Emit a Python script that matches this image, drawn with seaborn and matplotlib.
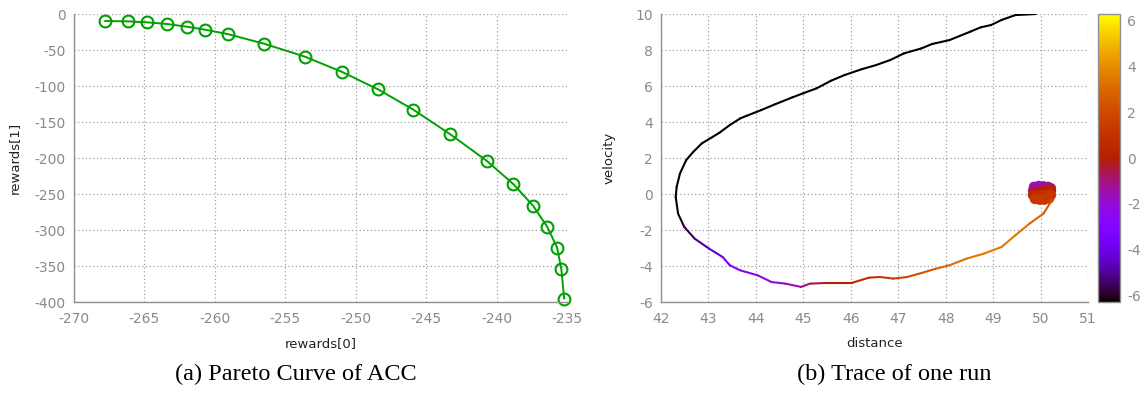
import numpy as np
import pandas as pd
import matplotlib
matplotlib.use("Agg")
import matplotlib.pyplot as plt
import seaborn as sns
from matplotlib.collections import LineCollection
from matplotlib.colors import Normalize
from matplotlib.cm import ScalarMappable

# (a) Pareto curve of ACC
rewards0 = [-267.8, -266.2, -264.8, -263.4, -262.0, -260.7, -259.1, -256.5, -253.6,
            -251.0, -248.4, -245.9, -243.3, -240.7, -238.8, -237.4, -236.4, -235.7,
            -235.4, -235.2]
rewards1 = [-9.7, -10.2, -11.6, -13.9, -17.6, -21.8, -27.8, -41.3, -59.3,
            -80.2, -104.8, -133.0, -166.9, -203.9, -236.4, -266.5, -295.7, -324.5,
            -354.6, -395.4]

# (b) trace of one run
distance = [49.90, 49.47, 49.18, 48.96, 48.74, 48.52, 48.08, 47.71, 47.49, 47.12,
            46.83, 46.53, 46.24, 45.87, 45.58, 45.28, 44.99, 44.77, 44.40, 44.11,
            43.81, 43.67, 43.45, 43.23, 42.86, 42.68, 42.53, 42.40, 42.33, 42.31,
            42.36, 42.49, 42.71, 43.01, 43.30, 43.45, 43.67, 44.04, 44.33, 44.62,
            44.95, 45.14, 45.50, 46.02, 46.38, 46.61, 46.90, 47.19, 47.49, 47.78,
            48.08, 48.44, 48.81, 49.18, 49.47, 49.77, 50.06, 50.24]
velocity = [10.00, 9.94, 9.67, 9.39, 9.26, 9.02, 8.55, 8.33, 8.09, 7.81,
            7.44, 7.16, 6.94, 6.61, 6.29, 5.87, 5.59, 5.37, 4.98, 4.66,
            4.35, 4.20, 3.83, 3.40, 2.81, 2.34, 1.88, 1.14, 0.40, -0.16,
            -1.09, -1.83, -2.48, -3.03, -3.50, -3.96, -4.24, -4.52, -4.89, -4.98,
            -5.16, -4.98, -4.94, -4.94, -4.65, -4.61, -4.70, -4.61, -4.39, -4.16,
            -3.96, -3.59, -3.31, -2.94, -2.29, -1.64, -1.09, -0.35]
colour_value = [-6.3, -6.3, -6.3, -6.3, -6.3, -6.3, -6.3, -6.3, -6.3, -6.3,
                -6.3, -6.3, -6.3, -6.3, -6.3, -6.3, -6.3, -6.3, -6.3, -6.3,
                -6.3, -6.3, -6.3, -6.3, -6.3, -6.3, -6.3, -6.3, -6.3, -6.3,
                -6.3, -6.0, -5.4, -4.7, -3.9, -3.2, -2.9, -2.5, -2.1, -1.7,
                -1.3, -0.8, -0.3, 0.3, 0.8, 1.1, 1.5, 1.9, 2.3, 2.7,
                3.0, 3.3, 3.5, 3.6, 3.5, 3.2, 2.8, 2.3]

# settling blob around distance 50, velocity 0
blob_distance = [49.86, 49.96, 50.06, 50.16, 50.22,
                 49.84, 49.94, 50.04, 50.14, 50.22,
                 49.84, 49.94, 50.04, 50.14, 50.22,
                 49.88, 49.98, 50.08, 50.18]
blob_velocity = [0.40, 0.45, 0.43, 0.40, 0.32,
                 0.18, 0.18, 0.18, 0.18, 0.18,
                 -0.06, -0.06, -0.06, -0.06, -0.06,
                 -0.28, -0.32, -0.32, -0.26]
blob_value = [-1.9, -1.7, -1.5, -1.2, -0.9,
              -0.8, -0.5, -0.2, 0.1, 0.3,
              0.5, 0.7, 0.9, 1.0, 1.1,
              1.2, 1.3, 1.4, 1.3]

cbar_ticks = [-6, -4, -2, 0, 2, 4, 6]

sns.set_style("white")
plt.rcParams['font.family'] = ['DejaVu Sans']
plt.rcParams['axes.unicode_minus'] = False

tick_grey = '#8a8a8a'
grid_kw = dict(color='#a0a0a0', linestyle=(0, (1, 2)), linewidth=0.9)

fig = plt.figure(figsize=(11.47, 3.96), dpi=100)
W, H = 1147, 396
ax1 = fig.add_axes([74 / W, 94 / H, (567 - 74) / W, 288 / H])
ax2 = fig.add_axes([661 / W, 94 / H, (1088 - 661) / W, 288 / H])
cax = fig.add_axes([1098 / W, 94 / H, 22 / W, 288 / H])


def style_axes(ax):
    for side in ['top', 'right']:
        ax.spines[side].set_visible(False)
    for side in ['left', 'bottom']:
        ax.spines[side].set_color('#909090')
        ax.spines[side].set_linewidth(1.0)
    ax.grid(True, **grid_kw)
    ax.set_axisbelow(True)
    ax.tick_params(axis='both', colors=tick_grey, labelsize=10, length=0, pad=7)
    ax.tick_params(axis='y', pad=6)


# left panel
pareto = pd.DataFrame({'rewards[0]': rewards0, 'rewards[1]': rewards1})
sns.lineplot(data=pareto, x='rewards[0]', y='rewards[1]', sort=False, ax=ax1,
             color='#00a000', linewidth=1.4, marker='o', markersize=8.5,
             markerfacecolor='none', markeredgecolor='#00a000', markeredgewidth=1.5,
             clip_on=False)
ax1.set_xlim(-270, -235)
ax1.set_ylim(-400, 0)
ax1.set_xticks(range(-270, -234, 5))
ax1.set_yticks(range(-400, 1, 50))
style_axes(ax1)
ax1.set_xlabel('rewards[0]', fontsize=9.5, color='#222222', labelpad=8)
ax1.set_ylabel('rewards[1]', fontsize=9.5, color='#222222', labelpad=10)

# right panel
cmap = plt.get_cmap('gnuplot')
norm = Normalize(vmin=-6.3, vmax=6.3)
pts = np.column_stack([distance, velocity])
segs = np.stack([pts[:-1], pts[1:]], axis=1)
seg_vals = (np.array(colour_value[:-1]) + np.array(colour_value[1:])) / 2
lc = LineCollection(segs, cmap=cmap, norm=norm, linewidth=1.5, capstyle='round',
                    joinstyle='round')
lc.set_array(seg_vals)
ax2.add_collection(lc)
sns.scatterplot(x=blob_distance, y=blob_velocity, hue=blob_value, palette=cmap,
                hue_norm=norm, s=55, linewidth=0, marker='o', legend=False, ax=ax2)
ax2.set_xlim(42, 51)
ax2.set_ylim(-6, 10)
ax2.set_xticks(range(42, 52))
ax2.set_yticks(range(-6, 11, 2))
style_axes(ax2)
ax2.set_xlabel('distance', fontsize=9.5, color='#222222', labelpad=8)
ax2.set_ylabel('velocity', fontsize=9.5, color='#222222', labelpad=14)

# colour bar
sm = ScalarMappable(norm=norm, cmap=cmap)
cb = fig.colorbar(sm, cax=cax, ticks=cbar_ticks)
cb.outline.set_edgecolor('#909090')
cb.outline.set_linewidth(1.0)
cax.tick_params(axis='y', which='both', direction='in', length=5, width=1,
                color='#909090', left=True, right=True, labelcolor=tick_grey,
                labelsize=10, pad=5)

# sub-captions
fig.text(296 / W, 1 - 374 / H, '(a) Pareto Curve of ACC', ha='center', va='center',
         fontsize=17.5, family=['Liberation Serif', 'DejaVu Serif'], color='black')
fig.text(894 / W, 1 - 374 / H, '(b) Trace of one run', ha='center', va='center',
         fontsize=17.5, family=['Liberation Serif', 'DejaVu Serif'], color='black')

fig.savefig('out.png', dpi=100)
